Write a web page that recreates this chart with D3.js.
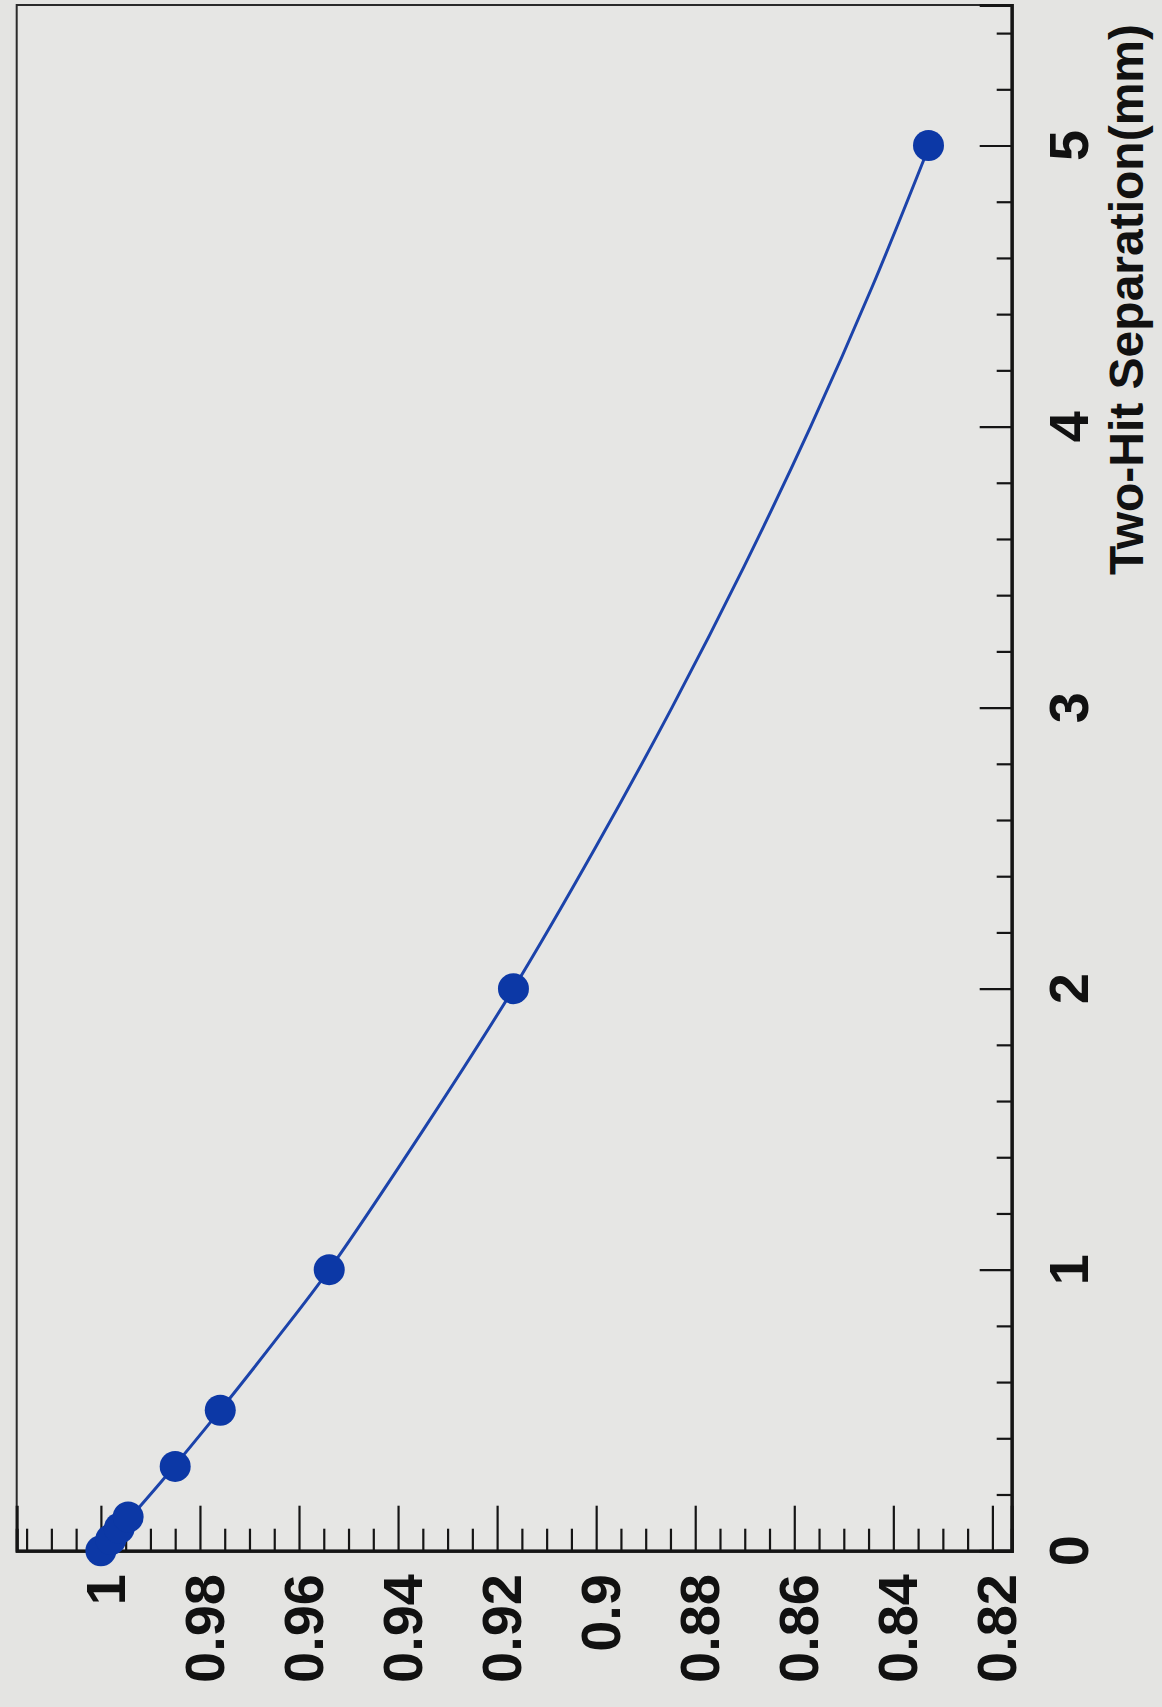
<!DOCTYPE html>
<html><head><meta charset="utf-8">
<script src="https://cdn.jsdelivr.net/npm/d3@7"></script>
<style>
html,body{margin:0;padding:0;background:#e4e4e2;}
svg{display:block;}
</style></head><body>
<svg id="chart" width="1162" height="1707"></svg>
<script>
// ---- data ----
const separationMM = [0, 0.04, 0.08, 0.12, 0.3, 0.5, 1, 2, 5];
const efficiency   = [1.0, 0.998, 0.9963, 0.9945, 0.985, 0.9759, 0.9539, 0.9167, 0.8329];
const fitMM         = [0, 0.25, 0.5, 0.75, 1, 1.5, 2, 2.5, 3, 3.5, 4, 4.5, 5];
const fitEfficiency = [1.0, 0.9876, 0.9759, 0.9647, 0.9539, 0.9348, 0.9167, 0.9002, 0.8847, 0.8702, 0.8567, 0.8442, 0.8327];
const effTickValues = [1, 0.98, 0.96, 0.94, 0.92, 0.9, 0.88, 0.86, 0.84, 0.82];
const effTickLabels = ["1", "0.98", "0.96", "0.94", "0.92", "0.9", "0.88", "0.86", "0.84", "0.82"];
const mmTickValues = [0, 1, 2, 3, 4, 5];
const mmTickLabels = ["0", "1", "2", "3", "4", "5"];
const mmAxisTitle = "Two-Hit Separation(mm)";

(function () {
// ---- layout ----
const pLeft = 16.7, pRight = 1011.7, pTop = 5, pBottom = 1550.7;
const svg = d3.select("#chart");
const FONT = "'Liberation Sans', Arial, Helvetica, sans-serif";

// efficiency runs horizontally (rotated chart), separation runs vertically
const eff = d3.scaleLinear().domain([1.017, 0.8161]).range([pLeft, pRight]);
const mm = d3.scaleLinear().domain([0, 5.5]).range([pBottom, pTop]);

// frame (top and left thin)
svg.append("rect").attr("x", pLeft).attr("y", pTop)
  .attr("width", pRight - pLeft).attr("height", pBottom - pTop)
  .attr("fill", "#e6e6e4").attr("stroke", "#2a2a2a").attr("stroke-width", 2);

// bottom (efficiency) axis, ticks pointing inward
const effMinor = d3.range(164, 204).map(i => +(i * 0.005).toFixed(3))
  .filter(v => !effTickValues.some(m => Math.abs(m - v) < 1e-6));
const gB = svg.append("g").attr("transform", `translate(0,${pBottom})`);
gB.append("g").call(d3.axisTop(eff).tickValues(effMinor).tickSize(22).tickFormat(""));
gB.append("g").call(d3.axisTop(eff).tickValues(effTickValues).tickSize(45).tickFormat(""));
gB.selectAll("path.domain").attr("stroke", "#151515").attr("stroke-width", 3);
gB.selectAll(".tick line").attr("stroke", "#151515").attr("stroke-width", 2.2);

// right (separation) axis, ticks pointing inward
const mmMinor = d3.range(0, 28).map(i => +(i * 0.2).toFixed(2))
  .filter(v => !mmTickValues.some(m => Math.abs(m - v) < 1e-6));
const gR = svg.append("g").attr("transform", `translate(${pRight},0)`);
gR.append("g").call(d3.axisLeft(mm).tickValues(mmMinor).tickSize(15).tickFormat(""));
gR.append("g").call(d3.axisLeft(mm).tickValues(mmTickValues).tickSize(32).tickFormat(""));
gR.selectAll("path.domain").attr("stroke", "#151515").attr("stroke-width", 3);
gR.selectAll(".tick line").attr("stroke", "#151515").attr("stroke-width", 2.2);

// efficiency tick labels (rotated)
svg.append("g").selectAll("text").data(effTickValues).join("text")
  .attr("transform", d => `translate(${eff(d) + 24},1574) rotate(-90)`)
  .attr("text-anchor", "end")
  .attr("font-family", FONT).attr("font-weight", "bold").attr("font-size", 56)
  .attr("fill", "#111")
  .text((d, i) => effTickLabels[i]);

// separation tick labels (rotated)
svg.append("g").selectAll("text").data(mmTickValues).join("text")
  .attr("transform", d => `translate(1088,${mm(d)}) rotate(-90)`)
  .attr("text-anchor", "middle")
  .attr("font-family", FONT).attr("font-weight", "bold").attr("font-size", 56)
  .attr("fill", "#111")
  .text((d, i) => mmTickLabels[i]);

// axis title
svg.append("text")
  .attr("transform", `translate(1143,24) rotate(-90)`)
  .attr("text-anchor", "end")
  .attr("font-family", FONT).attr("font-weight", "bold").attr("font-size", 48)
  .attr("fill", "#111")
  .text(mmAxisTitle);

// fitted curve
const fitData = fitMM.map((m, i) => ({ m, e: fitEfficiency[i] }));
svg.append("path").datum(fitData)
  .attr("fill", "none").attr("stroke", "#1c43aa").attr("stroke-width", 3)
  .attr("d", d3.line().x(d => eff(d.e)).y(d => mm(d.m)).curve(d3.curveCatmullRom.alpha(0.5)));

// points
const pts = separationMM.map((m, i) => ({ m, e: efficiency[i] }));
svg.append("g").selectAll("circle").data(pts).join("circle")
  .attr("cx", d => eff(d.e)).attr("cy", d => mm(d.m)).attr("r", 15.5)
  .attr("fill", "#0c38a6");
})();
</script>
</body></html>
